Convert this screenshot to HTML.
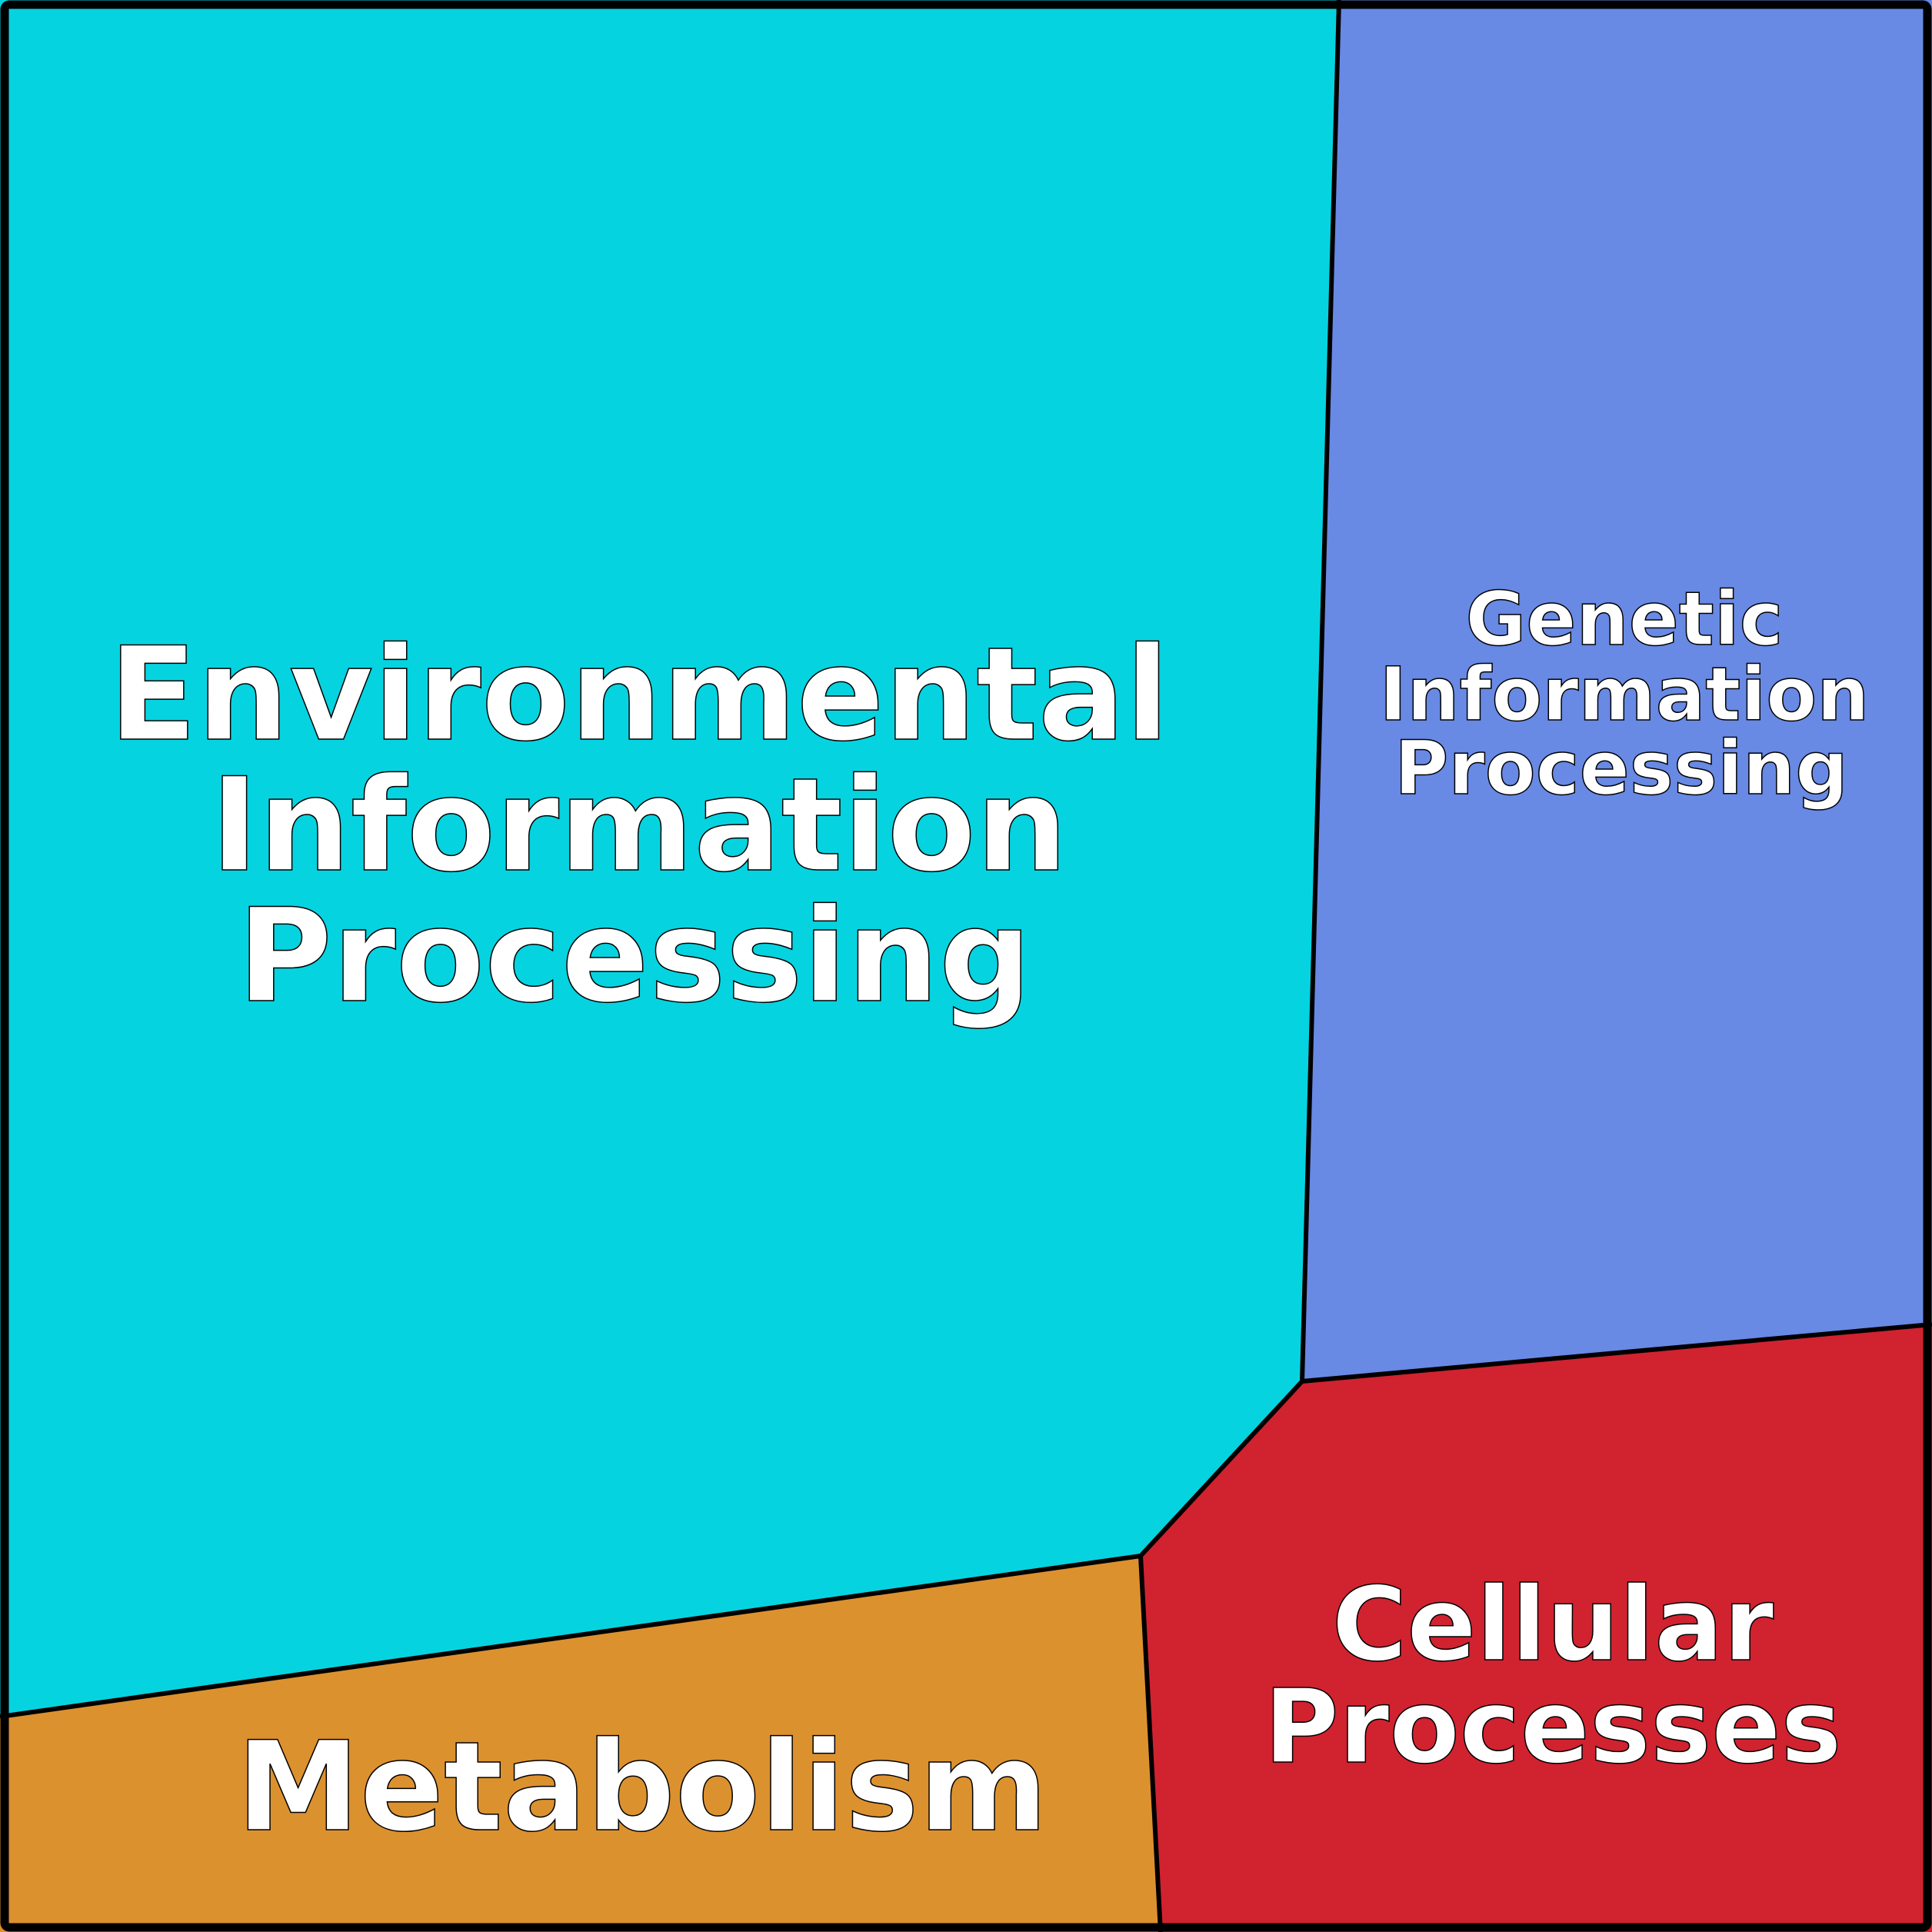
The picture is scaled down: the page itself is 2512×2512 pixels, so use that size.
<!DOCTYPE html>
<html><head><meta charset="utf-8"><style>
html,body{margin:0;padding:0;background:#fff}
svg{display:block}
text{font-family:"DejaVu Sans","Liberation Sans",sans-serif;font-weight:bold;fill:#fff;stroke:#000;stroke-width:1.5;text-anchor:middle}
</style></head><body>
<svg width="2512" height="2512" viewBox="0 0 2512 2512" xmlns="http://www.w3.org/2000/svg">
<polygon points="0,0 1741,0 1693,1796 1483,2023 0,2232" fill="#06d3e0"/>
<polygon points="1741,0 2512,0 2512,1722 1693,1796" fill="#6889e4"/>
<polygon points="1693,1796 2512,1722 2512,2512 1509,2512 1483,2023" fill="#d12230"/>
<polygon points="0,2232 1483,2023 1509,2512 0,2512" fill="#dc912f"/>
<g fill="none" stroke="#000" stroke-width="6" stroke-linejoin="round">
<polyline points="1741,0 1693,1796 2512,1722"/>
<polyline points="1693,1796 1483,2023 0,2232"/>
<polyline points="1483,2023 1509,2512"/>
</g>
<rect x="6" y="6" width="2500" height="2500" rx="6" fill="none" stroke="#000" stroke-width="11"/>
<text x="831" y="961" font-size="168">Environmental</text>
<text x="831" y="1131" font-size="168">Information</text>
<text x="825" y="1301" font-size="168">Processing</text>
<text x="2112" y="838" font-size="96">Genetic</text>
<text x="2112" y="936" font-size="96">Information</text>
<text x="2108" y="1032" font-size="96">Processing</text>
<text x="2019" y="2158" font-size="133">Cellular</text>
<text x="2019" y="2291" font-size="133">Processes</text>
<text x="835" y="2379" font-size="161">Metabolism</text>
</svg>
</body></html>
